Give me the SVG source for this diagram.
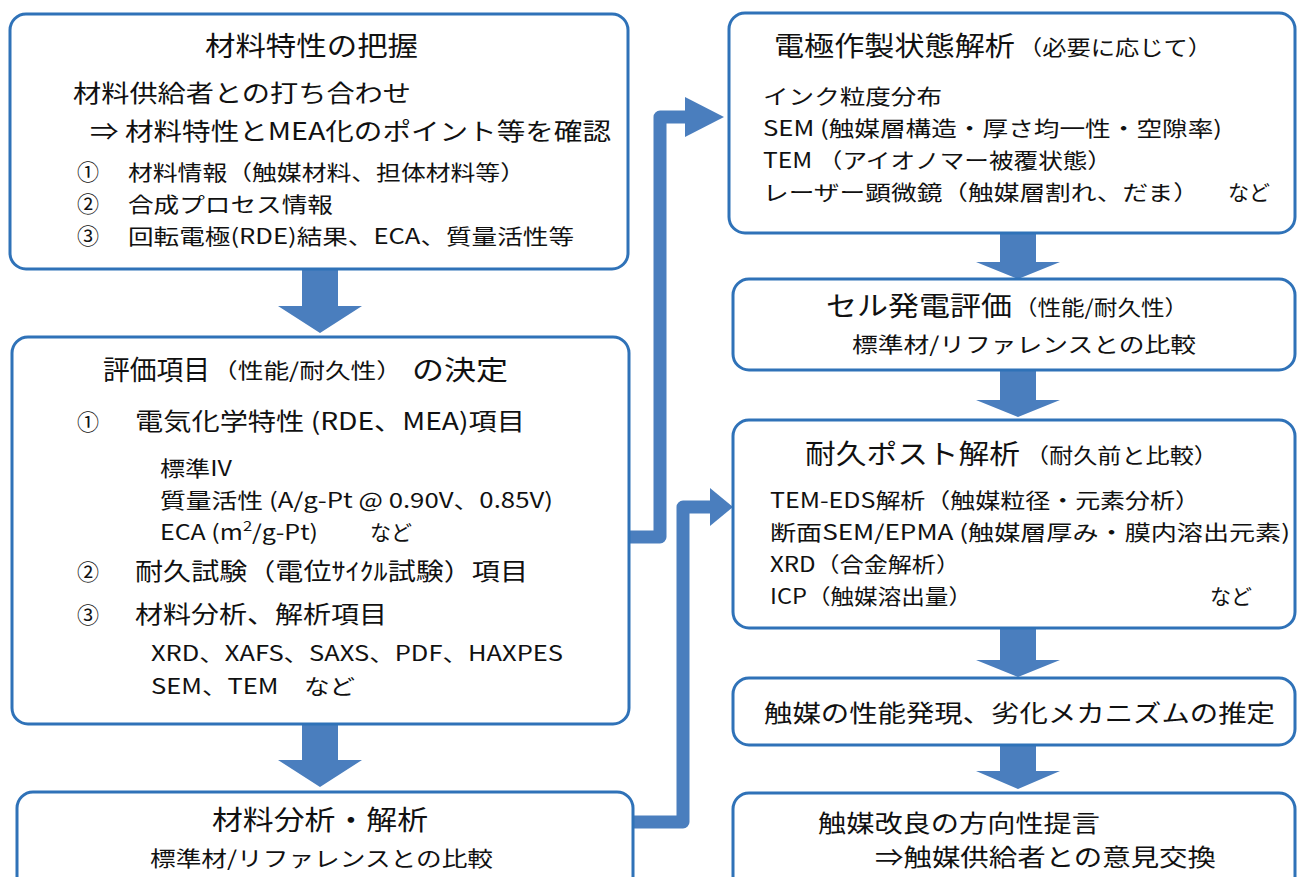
<svg xmlns="http://www.w3.org/2000/svg" width="1297" height="877" viewBox="0 0 1297 877">
<style>
.box{fill:#fff;stroke:#2F72B8;stroke-width:3}
.ar{fill:#4A7EBE}
.ln{fill:none;stroke:#4A7EBE;stroke-width:13;stroke-linejoin:round}
text{font-family:"Noto Sans CJK JP","Noto Sans",sans-serif;fill:#111}
.t{font-size:27px}
.m{font-size:24px}
.s{font-size:21px}
.xs{font-size:21px}
.n{font-size:22px}
</style>
<rect width="1297" height="877" fill="#fff"/>
<g id="connectors">
<polygon class="ar" points="302,270 338,270 338,306 362,306 320,333 278,306 302,306"/>
<polygon class="ar" points="302,724 338,724 338,760 362,760 320,787 278,760 302,760"/>
<polygon class="ar" points="1000,234 1036,234 1036,262 1060,262 1018,279 976,262 1000,262"/>
<polygon class="ar" points="1000,370 1036,370 1036,400 1060,400 1018,417 976,400 1000,400"/>
<polygon class="ar" points="1000,628 1036,628 1036,660 1060,660 1018,677 976,660 1000,660"/>
<polygon class="ar" points="1000,745 1036,745 1036,771 1060,771 1018,789 976,771 1000,771"/>
<polyline class="ln" points="628,537 660,537 660,117 690,117"/>
<polygon class="ar" points="685,97 724,117 685,137"/>
<polyline class="ln" points="632,822 683,822 683,507 714,507"/>
<polygon class="ar" points="710,488 733,507 710,526"/>
</g>
<g id="n1">
<rect class="box" x="10" y="14" width="618" height="255" rx="16"/>
<text class="t" x="205" y="56" textLength="213" lengthAdjust="spacingAndGlyphs">材料特性の把握</text>
<text class="m" x="73" y="102" textLength="338" lengthAdjust="spacingAndGlyphs">材料供給者との打ち合わせ</text>
<text class="m" x="90" y="140" textLength="521" lengthAdjust="spacingAndGlyphs">⇒ 材料特性とMEA化のポイント等を確認</text>
<text class="n" x="77" y="180">①</text>
<text class="s" x="128" y="180" textLength="397" lengthAdjust="spacingAndGlyphs">材料情報（触媒材料、担体材料等）</text>
<text class="n" x="77" y="212">②</text>
<text class="s" x="128" y="212" textLength="205" lengthAdjust="spacingAndGlyphs">合成プロセス情報</text>
<text class="n" x="77" y="244">③</text>
<text class="s" x="128" y="244" textLength="446" lengthAdjust="spacingAndGlyphs">回転電極(RDE)結果、ECA、質量活性等</text>
</g>
<g id="n2">
<rect class="box" x="12" y="337" width="617" height="387" rx="16"/>
<text class="t" x="103" y="380" textLength="107" lengthAdjust="spacingAndGlyphs">評価項目</text>
<text class="s" x="212" y="378" textLength="190" lengthAdjust="spacingAndGlyphs">（性能/耐久性）</text>
<text class="t" x="412" y="380" textLength="96" lengthAdjust="spacingAndGlyphs">の決定</text>
<text class="n" x="77" y="430">①</text>
<text class="m" x="135" y="430" textLength="390" lengthAdjust="spacingAndGlyphs">電気化学特性 (RDE、MEA)項目</text>
<text class="xs" x="160" y="476" textLength="72" lengthAdjust="spacingAndGlyphs">標準IV</text>
<text class="xs" x="160" y="508" textLength="393" lengthAdjust="spacingAndGlyphs">質量活性 (A/g-Pt @ 0.90V、0.85V)</text>
<text class="xs" x="160" y="540" textLength="158" lengthAdjust="spacingAndGlyphs">ECA (m<tspan font-size="14" dy="-9">2</tspan><tspan dy="9">/g-Pt)</tspan></text>
<text class="xs" x="370" y="540">など</text>
<text class="n" x="77" y="580">②</text>
<text class="m" x="135" y="580" textLength="393" lengthAdjust="spacingAndGlyphs">耐久試験（電位ｻｲｸﾙ試験）項目</text>
<text class="n" x="77" y="623">③</text>
<text class="m" x="135" y="623" textLength="252" lengthAdjust="spacingAndGlyphs">材料分析、解析項目</text>
<text class="xs" x="151" y="661" textLength="412" lengthAdjust="spacingAndGlyphs">XRD、XAFS、SAXS、PDF、HAXPES</text>
<text class="xs" x="151" y="694" textLength="204" lengthAdjust="spacingAndGlyphs">SEM、TEM　など</text>
</g>
<g id="n3">
<rect class="box" x="17" y="792" width="616" height="100" rx="16"/>
<text class="t" x="212" y="830" textLength="216" lengthAdjust="spacingAndGlyphs">材料分析・解析</text>
<text class="s" x="150" y="866" textLength="343" lengthAdjust="spacingAndGlyphs">標準材/リファレンスとの比較</text>
</g>
<g id="n4">
<rect class="box" x="729" y="13" width="566" height="220" rx="16"/>
<text class="t" x="774" y="56" textLength="241" lengthAdjust="spacingAndGlyphs">電極作製状態解析</text>
<text class="s" x="1018" y="55" textLength="194" lengthAdjust="spacingAndGlyphs">（必要に応じて）</text>
<text class="s" x="763" y="104" textLength="179" lengthAdjust="spacingAndGlyphs">インク粒度分布</text>
<text class="s" x="763" y="136" textLength="459" lengthAdjust="spacingAndGlyphs">SEM (触媒層構造・厚さ均一性・空隙率)</text>
<text class="s" x="763" y="168" textLength="349" lengthAdjust="spacingAndGlyphs">TEM （アイオノマー被覆状態）</text>
<text class="s" x="763" y="200" textLength="436" lengthAdjust="spacingAndGlyphs">レーザー顕微鏡（触媒層割れ、だま）</text>
<text class="s" x="1228" y="200">など</text>
</g>
<g id="n5">
<rect class="box" x="733" y="279" width="562" height="91" rx="16"/>
<text class="t" x="826" y="316" textLength="186" lengthAdjust="spacingAndGlyphs">セル発電評価</text>
<text class="s" x="1014" y="315" textLength="174" lengthAdjust="spacingAndGlyphs">（性能/耐久性）</text>
<text class="s" x="852" y="352" textLength="344" lengthAdjust="spacingAndGlyphs">標準材/リファレンスとの比較</text>
</g>
<g id="n6">
<rect class="box" x="733" y="420" width="562" height="208" rx="16"/>
<text class="t" x="805" y="464" textLength="215" lengthAdjust="spacingAndGlyphs">耐久ポスト解析</text>
<text class="s" x="1025" y="463" textLength="193" lengthAdjust="spacingAndGlyphs">（耐久前と比較）</text>
<text class="s" x="770" y="508" textLength="430" lengthAdjust="spacingAndGlyphs">TEM-EDS解析（触媒粒径・元素分析）</text>
<text class="s" x="770" y="540" textLength="520" lengthAdjust="spacingAndGlyphs">断面SEM/EPMA (触媒層厚み・膜内溶出元素)</text>
<text class="s" x="770" y="572" textLength="190" lengthAdjust="spacingAndGlyphs">XRD（合金解析）</text>
<text class="s" x="770" y="604" textLength="202" lengthAdjust="spacingAndGlyphs">ICP（触媒溶出量）</text>
<text class="s" x="1210" y="604">など</text>
</g>
<g id="n7">
<rect class="box" x="733" y="678" width="562" height="67" rx="16"/>
<text class="m" x="764" y="722" textLength="511" lengthAdjust="spacingAndGlyphs">触媒の性能発現、劣化メカニズムの推定</text>
</g>
<g id="n8">
<rect class="box" x="733" y="793" width="562" height="100" rx="16"/>
<text class="m" x="818" y="832" textLength="282" lengthAdjust="spacingAndGlyphs">触媒改良の方向性提言</text>
<text class="m" x="875" y="866" textLength="341" lengthAdjust="spacingAndGlyphs">⇒触媒供給者との意見交換</text>
</g>
</svg>
